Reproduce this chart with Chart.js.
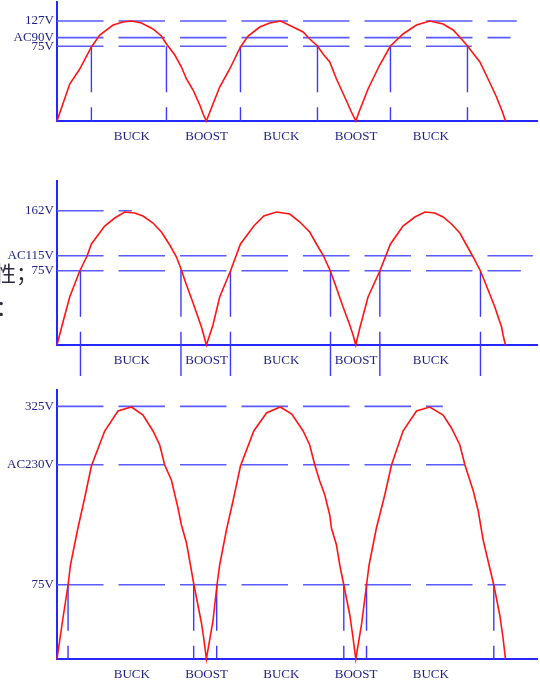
<!DOCTYPE html>
<html>
<head>
<meta charset="utf-8">
<script src="https://cdn.jsdelivr.net/npm/chart.js@4.4.1/dist/chart.umd.min.js"></script>
<style>
  body { margin: 0; background: #fff; width: 540px; height: 685px; overflow: hidden; position: relative; }
  canvas { position: absolute; left: 0; }
  .stray { position: absolute; font-family: "Noto Sans CJK SC", sans-serif; font-size: 21px; line-height: 1; color: #2a2a3a; }
</style>
</head>
<body>
<canvas id="c1" width="540" height="150" style="top:0px"></canvas>
<canvas id="c2" width="540" height="215" style="top:170px"></canvas>
<canvas id="c3" width="540" height="300" style="top:385px"></canvas>
<div class="stray" style="left:-5px;top:262px">性；</div>
<div class="stray" style="left:-4px;top:296px">：</div>
<script>
// x in ms (50Hz mains, 10ms per rectified half wave), y in drawn level units
var modeTicks = [5, 10, 15, 20, 25];
var modeLabels = ['BUCK', 'BOOST', 'BUCK', 'BOOST', 'BUCK'];

// panel 1 - AC90V
var levels1 = [74.7, 83.4, 100];
var levelLabels1 = ['75V', 'AC90V', '127V'];
var levelEnds1 = [27.74, 30.33, 30.75];
var cross1 = [2.30, 7.32, 12.27, 17.42, 22.30, 27.45];
var t1 = [0, 0.85, 1.52, 2.30, 2.86, 3.75, 4.41, 4.98, 5.65, 6.42, 6.98, 7.32, 7.88, 8.32, 8.66, 9.10, 9.55, 9.77, 9.99,
  10.43, 10.88, 11.55, 12.27, 12.78, 13.56, 14.22, 14.96, 15.79, 16.46, 16.90, 17.42, 17.79, 18.24, 18.69, 19.24, 19.69, 19.98,
  20.25, 20.80, 21.58, 22.30, 23.14, 24.04, 24.93, 25.82, 26.49, 27.05, 27.45, 28.28, 28.83, 29.39, 29.79, 29.99];
var v1 = [0, 37, 52, 74, 86, 96, 99, 100, 98, 92, 85, 77, 66, 54, 42, 31, 16, 7, 0,
  17, 34, 52, 74, 85, 94, 98, 100, 94, 89, 82, 75, 67, 59, 42, 24, 9, 0,
  11, 32, 56, 75, 87, 96, 100, 97, 91, 82, 75, 59, 42, 24, 9, 0];

// panel 2 - AC115V
var levels2 = [74.3, 89.3, 134.3];
var levelLabels2 = ['75V', 'AC115V', '162V'];
var levelEnds2 = [31.02, 31.82, 5.0];
var cross2 = [1.57, 8.29, 11.60, 18.29, 21.59, 28.32];
var t2 = [0, 0.40, 0.85, 1.52, 2.01, 2.30, 3.19, 3.86, 4.53, 5.20, 5.75, 6.42, 6.98, 7.54, 7.99, 8.27, 8.66, 9.10, 9.66, 9.81, 9.99,
  10.43, 10.88, 11.60, 12.27, 13.16, 13.83, 14.68, 15.57, 16.24, 16.90, 17.35, 17.79, 18.28, 18.69, 19.13, 19.58, 19.80, 19.98,
  20.25, 20.80, 21.59, 22.30, 23.14, 23.93, 24.60, 25.26, 25.82, 26.38, 26.94, 27.83, 28.32, 28.83, 29.28, 29.73, 29.83, 29.99];
var v2 = [0, 23, 48, 74, 89, 101, 119, 127, 133, 132, 129, 122, 113, 100, 88, 77, 60, 42, 18, 10, 0,
  20, 48, 74, 101, 119, 129, 133, 131, 123, 113, 101, 90, 74, 57, 38, 20, 10, 0,
  17, 48, 74, 101, 119, 128, 133, 132, 128, 121, 112, 88, 74, 55, 38, 18, 10, 0];

// panel 3 - AC230V
var levels3 = [74.3, 194.3, 252.6];
var levelLabels3 = ['75V', 'AC230V', '325V'];
var levelEnds3 = [30.01, 27.27, 25.80];
var cross3 = [0.74, 9.14, 10.68, 19.18, 20.70, 29.21];
var t3 = [0, 0.40, 0.74, 0.90, 1.40, 1.85, 2.30, 3.19, 4.08, 4.98, 5.75, 6.42, 6.87, 7.20, 7.65, 8.09, 8.32, 8.66, 9.16, 9.66, 9.81, 9.99,
  10.43, 10.70, 10.88, 11.33, 11.77, 12.27, 13.16, 14.01, 14.93, 15.70, 16.46, 16.90, 17.24, 17.57, 17.91, 18.24, 18.35, 18.69, 18.91, 19.18, 19.58, 19.80, 19.98,
  20.36, 20.70, 20.87, 21.36, 21.92, 22.37, 23.14, 24.04, 24.93, 25.82, 26.38, 26.94, 27.28, 27.84, 28.17, 28.50, 28.83, 29.21, 29.61, 29.83, 29.99];
var v3 = [0, 41, 74, 94, 131, 161, 193, 228, 248, 252, 244, 228, 214, 194, 179, 151, 134, 116, 74, 36, 21, 0,
  38, 74, 94, 129, 158, 193, 228, 246, 252, 245, 228, 214, 194, 178, 164, 144, 131, 114, 94, 74, 44, 21, 0,
  34, 74, 94, 131, 164, 194, 228, 248, 252, 244, 231, 214, 194, 168, 148, 119, 98, 74, 44, 21, 0];

var axisColor = '#2626ff';
var dashColor = '#5a5aff';
var vColor = '#3a3aff';
var textColor = '#1e1e86';
var font = { family: '"Liberation Serif", "Times New Roman", serif', size: 13 };

function makeChart(id, p) {
    var curve = p.t.map(function (x, i) { return { x: x, y: p.v[i] }; });
    var datasets = [{ data: curve, borderColor: '#ff1414', borderWidth: 1.6, clip: false }];
    p.levels.forEach(function (lv, i) {
        datasets.push({
            data: [{ x: 0, y: lv }, { x: p.ends[i], y: lv }],
            borderColor: dashColor, borderWidth: 1.6, borderDash: [46.5, 15], clip: false
        });
    });
    p.cross.forEach(function (x) {
        datasets.push({
            data: [{ x: x, y: p.levels[0] }, { x: x, y: p.crossBottom }],
            borderColor: vColor, borderWidth: 1.4, borderDash: [46, 15], clip: false
        });
    });
    return new Chart(document.getElementById(id), {
        type: 'line',
        data: { datasets: datasets },
        options: {
            responsive: false,
            animation: false,
            layout: { padding: { top: p.padTop, right: 3, left: 0, bottom: 0 } },
            plugins: { legend: { display: false }, tooltip: { enabled: false } },
            elements: { point: { radius: 0 }, line: { tension: 0, fill: false } },
            scales: {
                x: {
                    type: 'linear', min: 0, max: 32.1,
                    grid: { display: false, drawTicks: false },
                    border: { color: axisColor, width: 2 },
                    afterBuildTicks: function (s) { s.ticks = modeTicks.map(function (v) { return { value: v }; }); },
                    afterFit: function (s) { s.height = p.xHeight; s.paddingLeft = 0; s.paddingRight = 0; },
                    ticks: {
                        autoSkip: false, maxRotation: 0, padding: 8, color: textColor, font: font,
                        callback: function (v, i) { return modeLabels[i]; }
                    }
                },
                y: {
                    type: 'linear', min: 0, max: p.yMax,
                    grid: { display: false, drawTicks: false },
                    border: { color: axisColor, width: 2 },
                    afterBuildTicks: function (s) { s.ticks = p.levels.map(function (v) { return { value: v }; }); },
                    afterFit: function (s) { s.width = 57; s.paddingTop = 0; s.paddingBottom = 0; },
                    ticks: {
                        autoSkip: false, padding: 3, color: textColor, font: font,
                        callback: function (v, i) { return p.labels[i]; }
                    }
                }
            }
        }
    });
}

makeChart('c1', { t: t1, v: v1, levels: levels1, labels: levelLabels1, ends: levelEnds1, cross: cross1,
    crossBottom: 0, padTop: 2, xHeight: 29, yMax: 119 });
makeChart('c2', { t: t2, v: v2, levels: levels2, labels: levelLabels2, ends: levelEnds2, cross: cross2,
    crossBottom: -31, padTop: 11, xHeight: 40, yMax: 164 });
makeChart('c3', { t: t3, v: v3, levels: levels3, labels: levelLabels3, ends: levelEnds3, cross: cross3,
    crossBottom: 0, padTop: 5, xHeight: 26, yMax: 269 });
</script>
</body>
</html>
